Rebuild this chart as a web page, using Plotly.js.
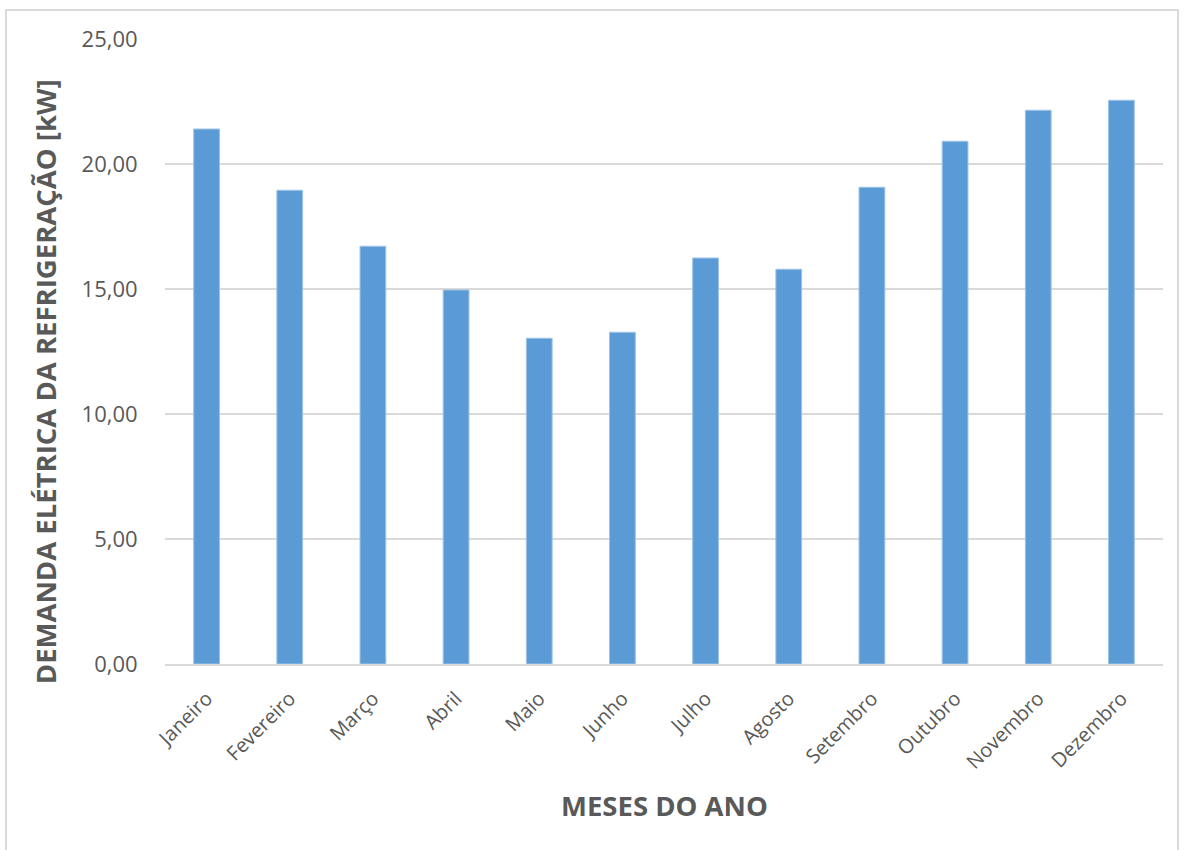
<!DOCTYPE html>
<html>
<head>
<meta charset="utf-8">
<script src="https://cdn.plot.ly/plotly-3.0.1.min.js"></script>
<style>
  html, body { margin: 0; padding: 0; background: #ffffff; }
  #wrap { position: relative; width: 1192px; height: 850px; overflow: hidden; }
  #chart { position: absolute; left: 0; top: 0; width: 1192px; height: 850px; }
  #frame { position: absolute; left: 5px; top: 9px; width: 1174px; height: 860px;
           border: 2px solid #d9d9d9; box-sizing: border-box; pointer-events: none; }
</style>
</head>
<body>
<div id="wrap">
  <div id="chart"></div>
  <div id="frame"></div>
</div>
<script>
const months = ["Janeiro", "Fevereiro", "Março", "Abril", "Maio", "Junho",
                "Julho", "Agosto", "Setembro", "Outubro", "Novembro", "Dezembro"];
const demand = [21.40, 18.95, 16.71, 14.96, 13.03, 13.27,
                16.24, 15.79, 19.07, 20.91, 22.15, 22.55];
const yTicks = [0, 5, 10, 15, 20, 25];

const trace = {
  type: "bar",
  x: months,
  y: demand,
  marker: { color: "#5b9bd5", line: { color: "#9dc3e6", width: 1 } },
  width: 0.31,
  hoverinfo: "x+y"
};

const layout = {
  width: 1192,
  height: 850,
  margin: { l: 165, r: 29, t: 39, b: 186 },
  paper_bgcolor: "#ffffff",
  plot_bgcolor: "#ffffff",
  showlegend: false,
  separators: ",.",
  font: { family: "Open Sans, sans-serif", color: "#595959" },
  xaxis: {
    type: "category",
    tickangle: -45,
    tickfont: { size: 20, color: "#595959" },
    showgrid: false,
    showline: true,
    linecolor: "#d9d9d9",
    linewidth: 2,
    ticks: "outside",
    ticklen: 13,
    tickcolor: "rgba(0,0,0,0)"
  },
  yaxis: {
    range: [0, 25],
    tickvals: yTicks,
    tickformat: ".2f",
    tickfont: { size: 22, color: "#595959" },
    showgrid: true,
    gridcolor: "#d9d9d9",
    gridwidth: 1.5,
    zeroline: false,
    showline: false,
    ticks: "outside",
    ticklen: 22,
    tickcolor: "rgba(0,0,0,0)"
  },
  annotations: [
    {
      text: "<b>DEMANDA ELÉTRICA DA REFRIGERAÇÃO [kW]</b>",
      xref: "paper", yref: "paper",
      x: -0.1202, y: 0.451,
      xanchor: "center", yanchor: "middle",
      textangle: -90,
      showarrow: false,
      font: { size: 27.5, color: "#595959", family: "Open Sans, sans-serif" }
    },
    {
      text: "<b>MESES DO ANO</b>",
      xref: "paper", yref: "paper",
      x: 0.5, y: -0.2256,
      xanchor: "center", yanchor: "middle",
      showarrow: false,
      font: { size: 27.5, color: "#595959", family: "Open Sans, sans-serif" }
    }
  ]
};

Plotly.newPlot("chart", [trace], layout, { displayModeBar: false, staticPlot: true });
</script>
</body>
</html>
